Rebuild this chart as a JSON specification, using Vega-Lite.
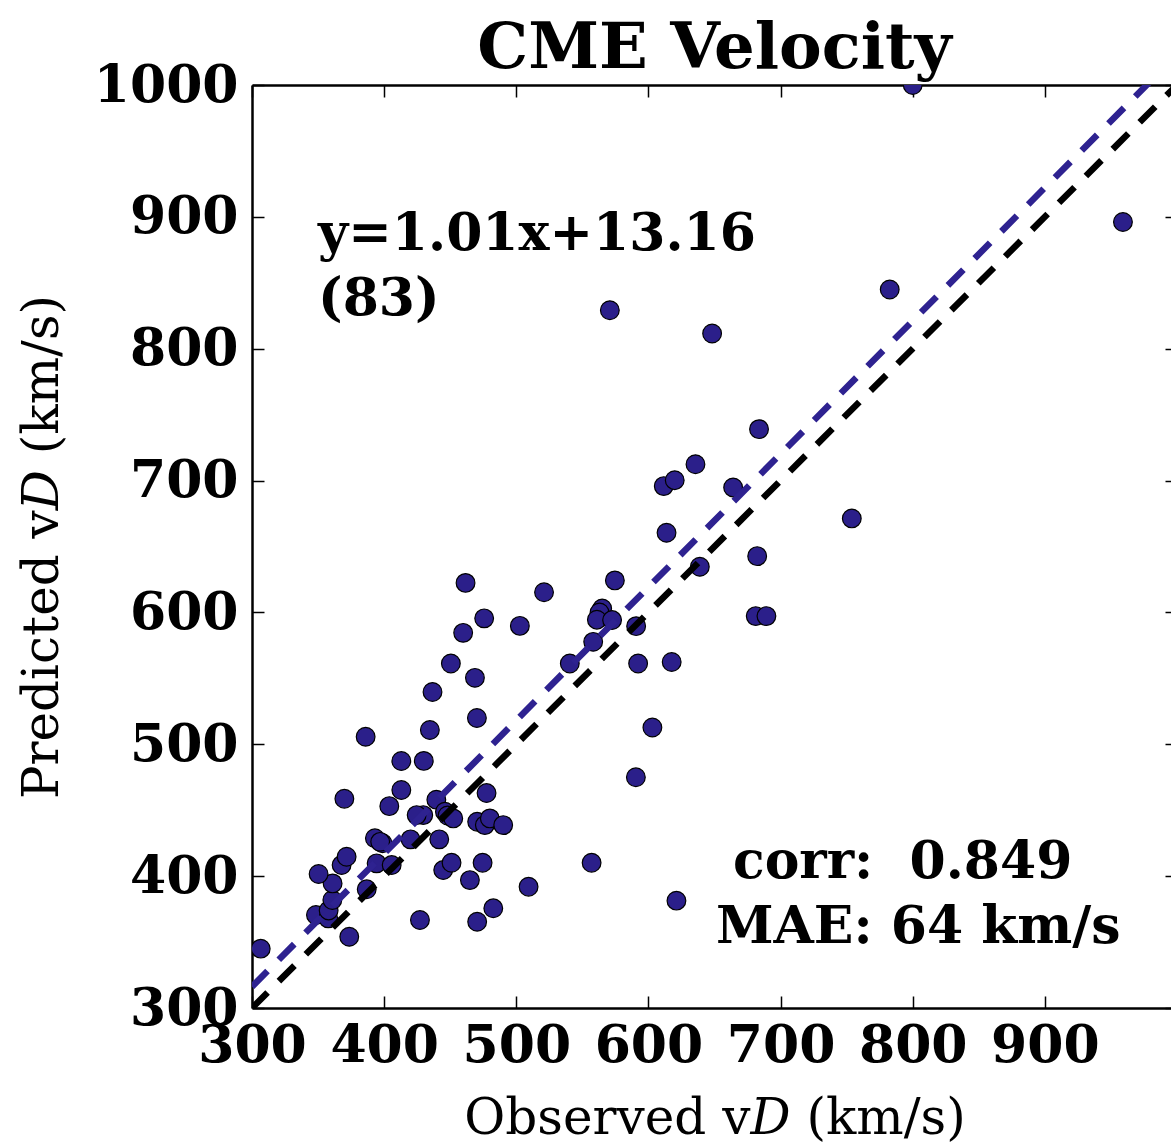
{
  "$schema": "https://vega.github.io/schema/vega-lite/v6.json",
  "width": 925,
  "height": 923,
  "autosize": {"type": "none"},
  "padding": {"left": 252, "top": 85, "right": 0, "bottom": 136},
  "background": "white",
  "title": {
    "text": "CME Velocity",
    "font": "DejaVu Serif",
    "fontWeight": "bold",
    "fontSize": 64,
    "anchor": "middle",
    "color": "black",
    "baseline": "alphabetic",
    "offset": -73
  },
  "config": {
    "view": {"stroke": null},
    "axis": {
      "domainColor": "black",
      "domainWidth": 2.5,
      "tickColor": "black",
      "tickWidth": 1.5,
      "tickSize": -12,
      "grid": false,
      "format": "d",
      "labelFlush": false,
      "labelOverlap": false,
      "labelFont": "DejaVu Serif",
      "labelFontWeight": "bold",
      "labelFontSize": 52,
      "labelColor": "black",
      "titleFont": "DejaVu Serif",
      "titleFontWeight": "normal",
      "titleFontSize": 50,
      "titleColor": "black"
    }
  },
  "datasets": {
    "pts": [
      {"obs": 306.6, "pred": 345},
      {"obs": 348.4, "pred": 370.5},
      {"obs": 357.7, "pred": 368},
      {"obs": 358, "pred": 374},
      {"obs": 360.8, "pred": 381.9},
      {"obs": 361, "pred": 394.5},
      {"obs": 350.4, "pred": 401.6},
      {"obs": 367.8, "pred": 408.4},
      {"obs": 371.6, "pred": 414.7},
      {"obs": 373.6, "pred": 354},
      {"obs": 369.9, "pred": 458.7},
      {"obs": 386.8, "pred": 390},
      {"obs": 386, "pred": 505.7},
      {"obs": 394.3, "pred": 409.7},
      {"obs": 393, "pred": 428.7},
      {"obs": 398.8, "pred": 424.9},
      {"obs": 397, "pred": 426},
      {"obs": 405.7, "pred": 408.4},
      {"obs": 403.9, "pred": 453.1},
      {"obs": 413, "pred": 465.3},
      {"obs": 413, "pred": 487.3},
      {"obs": 430, "pred": 487.4},
      {"obs": 434.6, "pred": 510.8},
      {"obs": 436.6, "pred": 539.7},
      {"obs": 470.2, "pred": 519.9},
      {"obs": 420, "pred": 427.9},
      {"obs": 429.6, "pred": 446.3},
      {"obs": 424.6, "pred": 446.3},
      {"obs": 439.5, "pred": 458},
      {"obs": 441.7, "pred": 427.9},
      {"obs": 446, "pred": 448.8},
      {"obs": 448, "pred": 446},
      {"obs": 452.3, "pred": 443.8},
      {"obs": 444.7, "pred": 404.6},
      {"obs": 451, "pred": 410.2},
      {"obs": 464.9, "pred": 397},
      {"obs": 474.5, "pred": 410.2},
      {"obs": 477.5, "pred": 463},
      {"obs": 470.4, "pred": 441.3},
      {"obs": 476.2, "pred": 438.7},
      {"obs": 480, "pred": 443.8},
      {"obs": 490.1, "pred": 438.7},
      {"obs": 427.1, "pred": 366.7},
      {"obs": 470.4, "pred": 365.4},
      {"obs": 482.6, "pred": 375.6},
      {"obs": 509.3, "pred": 392},
      {"obs": 461.6, "pred": 622.4},
      {"obs": 521, "pred": 615.3},
      {"obs": 475.7, "pred": 595.5},
      {"obs": 459.8, "pred": 584.5},
      {"obs": 502.7, "pred": 589.8},
      {"obs": 450.5, "pred": 561.3},
      {"obs": 468.7, "pred": 550.4},
      {"obs": 574.6, "pred": 624.3},
      {"obs": 565, "pred": 603},
      {"obs": 563, "pred": 600},
      {"obs": 561, "pred": 594.5},
      {"obs": 572.5, "pred": 594.2},
      {"obs": 590.7, "pred": 589.6},
      {"obs": 558.2, "pred": 577.7},
      {"obs": 540.5, "pred": 561.3},
      {"obs": 592.2, "pred": 561.3},
      {"obs": 617.6, "pred": 562.4},
      {"obs": 603, "pred": 512.7},
      {"obs": 590.5, "pred": 475},
      {"obs": 638.9, "pred": 634.6},
      {"obs": 557, "pred": 410.2},
      {"obs": 621.2, "pred": 381.4},
      {"obs": 681.2, "pred": 597.2},
      {"obs": 689.3, "pred": 597.2},
      {"obs": 570.8, "pred": 829.2},
      {"obs": 648.2, "pred": 811.5},
      {"obs": 683.7, "pred": 739},
      {"obs": 635.6, "pred": 712.4},
      {"obs": 611.6, "pred": 695.8},
      {"obs": 619.9, "pred": 700.3},
      {"obs": 664.1, "pred": 694.8},
      {"obs": 613.7, "pred": 660.4},
      {"obs": 753.9, "pred": 671.3},
      {"obs": 682.3, "pred": 642.7},
      {"obs": 959.1, "pred": 896.1},
      {"obs": 782.6, "pred": 844.9},
      {"obs": 800, "pred": 1000}
    ],
    "identity": [{"obs": 300, "pred": 300}, {"obs": 1000, "pred": 1000}],
    "fit": [{"obs": 300, "pred": 316.16}, {"obs": 1000, "pred": 1023.16}],
    "leftText": [
      {"obs": 350, "pred": 874.7, "t": "y=1.01x+13.16"},
      {"obs": 350, "pred": 825.4, "t": "(83)"}
    ],
    "rightText": [
      {"obs": 792.4, "pred": 398.6, "t": "corr:\u00a0 0.849"},
      {"obs": 804.2, "pred": 349.3, "t": "MAE: 64 km/s"}
    ]
  },
  "layer": [
    {
      "data": {"name": "pts"},
      "mark": {"type": "circle", "size": 350, "fill": "#2b1f8a", "stroke": "black", "strokeWidth": 1.2, "opacity": 1, "fillOpacity": 1, "clip": true},
      "encoding": {
        "x": {
          "field": "obs", "type": "quantitative",
          "scale": {"domain": [300, 1000], "nice": false, "zero": false},
          "axis": {
            "orient": "bottom",
            "values": [300, 400, 500, 600, 700, 800, 900, 1000],
            "labelExpr": "datum.value == 1000 ? '' : datum.label",
            "labelPadding": 24,
            "title": "Observed v𝐷 (km/s)",
            "titlePadding": 22
          }
        },
        "y": {
          "field": "pred", "type": "quantitative",
          "scale": {"domain": [300, 1000], "nice": false, "zero": false},
          "axis": {
            "orient": "left",
            "values": [300, 400, 500, 600, 700, 800, 900, 1000],
            "labelPadding": 26,
            "title": "Predicted v𝐷 (km/s)",
            "titlePadding": 26
          }
        }
      }
    },
    {
      "data": {"name": "identity"},
      "mark": {"type": "line", "color": "black", "strokeWidth": 6.5, "strokeDash": [22, 16], "clip": true},
      "encoding": {
        "x": {
          "field": "obs", "type": "quantitative",
          "axis": {"orient": "top", "values": [300, 400, 500, 600, 700, 800, 900, 1000], "labels": false, "title": null}
        },
        "y": {
          "field": "pred", "type": "quantitative",
          "axis": {"orient": "right", "values": [300, 400, 500, 600, 700, 800, 900, 1000], "labels": false, "title": null}
        }
      }
    },
    {
      "data": {"name": "fit"},
      "mark": {"type": "line", "color": "#2e2290", "strokeWidth": 6.5, "strokeDash": [22, 16], "clip": true},
      "encoding": {
        "x": {"field": "obs", "type": "quantitative", "axis": null},
        "y": {"field": "pred", "type": "quantitative", "axis": null}
      }
    },
    {
      "data": {"name": "leftText"},
      "mark": {"type": "text", "font": "DejaVu Serif", "fontWeight": "bold", "fontSize": 52, "align": "left", "baseline": "alphabetic", "color": "black"},
      "encoding": {
        "x": {"field": "obs", "type": "quantitative", "axis": null},
        "y": {"field": "pred", "type": "quantitative", "axis": null},
        "text": {"field": "t"}
      }
    },
    {
      "data": {"name": "rightText"},
      "mark": {"type": "text", "font": "DejaVu Serif", "fontWeight": "bold", "fontSize": 52, "align": "center", "baseline": "alphabetic", "color": "black"},
      "encoding": {
        "x": {"field": "obs", "type": "quantitative", "axis": null},
        "y": {"field": "pred", "type": "quantitative", "axis": null},
        "text": {"field": "t"}
      }
    }
  ],
  "resolve": {"axis": {"x": "independent", "y": "independent"}}
}
